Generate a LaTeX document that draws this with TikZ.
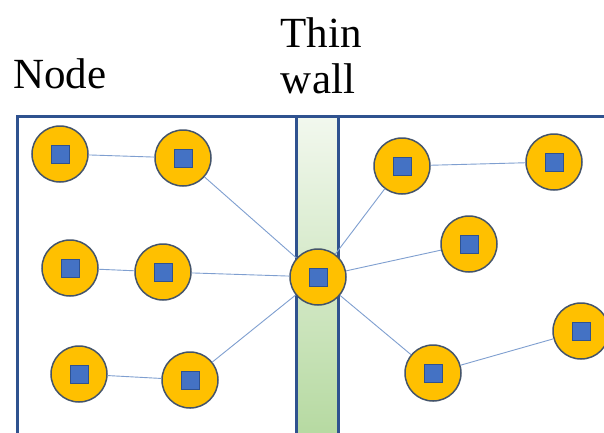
\documentclass[tikz,border=0pt]{standalone}
\usepackage{fontspec}
\setmainfont{Liberation Serif}
\newfontfamily\lblfont{Liberation Serif}
\definecolor{nodeor}{HTML}{FFC000}
\definecolor{nodebd}{HTML}{44546A}
\definecolor{sqfill}{HTML}{4472C4}
\definecolor{sqbd}{HTML}{2F528F}
\definecolor{edgec}{HTML}{7F9FD0}
\definecolor{framec}{HTML}{2F528F}
\definecolor{walltop}{HTML}{F2F8EE}
\definecolor{wallbot}{HTML}{B5D9A0}
\tikzset{
  pnode/.style={circle, draw=nodebd, fill=nodeor, line width=1.5pt, minimum size=56pt, inner sep=0pt,
    path picture={\draw[fill=sqfill, draw=sqbd, line width=1pt]
      ([shift={(-9pt,-9pt)}]path picture bounding box.center) rectangle
      ([shift={(9pt,9pt)}]path picture bounding box.center);}},
  link/.style={draw=edgec, line width=0.9pt},
  frame/.style={draw=framec, line width=3pt},
  lbl/.style={font=\lblfont\fontsize{43}{49}\selectfont, inner sep=0pt}
}
\begin{document}
\begin{tikzpicture}[x=1pt,y=-1pt]
\useasboundingbox (0,0) rectangle (604,432);
\fill[white] (0,0) rectangle (604,432);
% wall
\shade[top color=walltop, bottom color=wallbot] (296,116) rectangle (338,440);
\draw[frame] (17,440) -- (17,116) -- (620,116);
\draw[frame] (296,116) -- (296,440);
\draw[frame] (338,116) -- (338,440);
% labels
\node[lbl, anchor=base west] (nodelbl) at (13,88) {Node};
\node[lbl, anchor=base] (thinlbl) at (321,47) {Thin};
\node[lbl, anchor=base] (walllbl) at (318,93) {wall};
% nodes
\node[pnode] (n1) at (60,154) {};
\node[pnode] (n2) at (183,158) {};
\node[pnode] (n3) at (70,268) {};
\node[pnode] (n4) at (163,272) {};
\node[pnode] (n5) at (79,374) {};
\node[pnode] (n6) at (190,380) {};
\node[pnode] (c) at (318,277) {};
\node[pnode] (n8) at (402,166) {};
\node[pnode] (n9) at (554,162) {};
\node[pnode] (n10) at (469,244) {};
\node[pnode] (n11) at (581,331) {};
\node[pnode] (n12) at (433,373) {};
% links
\draw[link] (n1) -- (n2);
\draw[link] (n2) -- (c);
\draw[link] (n3) -- (n4);
\draw[link] (n4) -- (c);
\draw[link] (n5) -- (n6);
\draw[link] (n6) -- (c);
\draw[link] (c) -- (n8);
\draw[link] (n8) -- (n9);
\draw[link] (c) -- (n10);
\draw[link] (c) -- (n12);
\draw[link] (n12) -- (n11);
\end{tikzpicture}
\end{document}
